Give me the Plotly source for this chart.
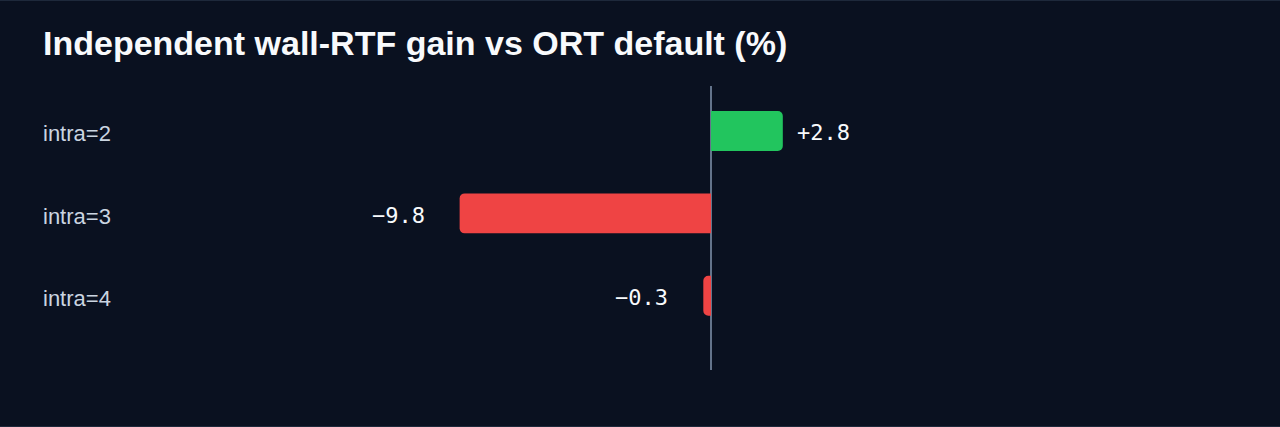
import plotly.graph_objects as go

categories = ["intra=2", "intra=3", "intra=4"]
gains = [2.8, -9.8, -0.3]

BG = "#0a1120"
GREEN = "#22c55e"
RED = "#ef4444"

colors = [GREEN if v >= 0 else RED for v in gains]
labels = [f"{v:+.1f}".replace("-", "\u2212") for v in gains]

W, H = 1280, 427
M = dict(l=198, r=56, t=86, b=57)
pw = W - M["l"] - M["r"]
ph = H - M["t"] - M["b"]

fig = go.Figure(
    go.Bar(
        x=gains,
        y=categories,
        orientation="h",
        marker=dict(color=colors, line=dict(width=0)),
        width=0.485,
        hoverinfo="skip",
    )
)

# value labels just past the bar ends
for v, c, t in zip(gains, categories, labels):
    fig.add_annotation(
        x=v, y=c, xref="x", yref="y", text=t, showarrow=False,
        xanchor="left" if v >= 0 else "right",
        xshift=12 if v >= 0 else -33, yshift=-2,
        font=dict(family="DejaVu Sans Mono", size=22, color="#f8fafc"),
    )

# category names, left aligned at the card edge
for c in categories:
    fig.add_annotation(
        x=(41 - M["l"]) / pw, y=c, xref="paper", yref="y", text=c, showarrow=False,
        xanchor="left", yshift=-3,
        font=dict(family="Liberation Sans, Arial, sans-serif", size=22, color="#cbd5e1"),
    )

# hairlines top and bottom of the card
for yy in (1 + (M["t"] - 0.5) / ph, -(M["b"] - 0.5) / ph):
    fig.add_shape(
        type="line", xref="paper", yref="paper", layer="below",
        x0=-M["l"] / pw, x1=1 + M["r"] / pw, y0=yy, y1=yy,
        line=dict(color="#1e293b", width=1),
    )

fig.update_layout(
    width=W, height=H, margin=M,
    paper_bgcolor=BG, plot_bgcolor=BG,
    barcornerradius=5,
    showlegend=False,
    title=dict(
        text="<b>Independent wall-RTF gain vs ORT default (%)</b>",
        x=43 / W, xanchor="left", xref="container",
        y=1 - 43 / H, yanchor="middle", yref="container",
        font=dict(family="Liberation Sans, Arial, sans-serif", size=34, color="#f8fafc"),
    ),
    xaxis=dict(
        range=[-20, 20], showgrid=False, showticklabels=False, ticks="",
        zeroline=True, zerolinecolor="#64748b", zerolinewidth=1.5,
    ),
    yaxis=dict(
        range=[2.9, -0.545], showgrid=False, zeroline=False, ticks="",
        showticklabels=False,
    ),
)

fig.write_html(
    "out.html",
    config={"displayModeBar": False},
    post_script="document.body.style.margin='0';document.body.style.background='" + BG + "';",
)
